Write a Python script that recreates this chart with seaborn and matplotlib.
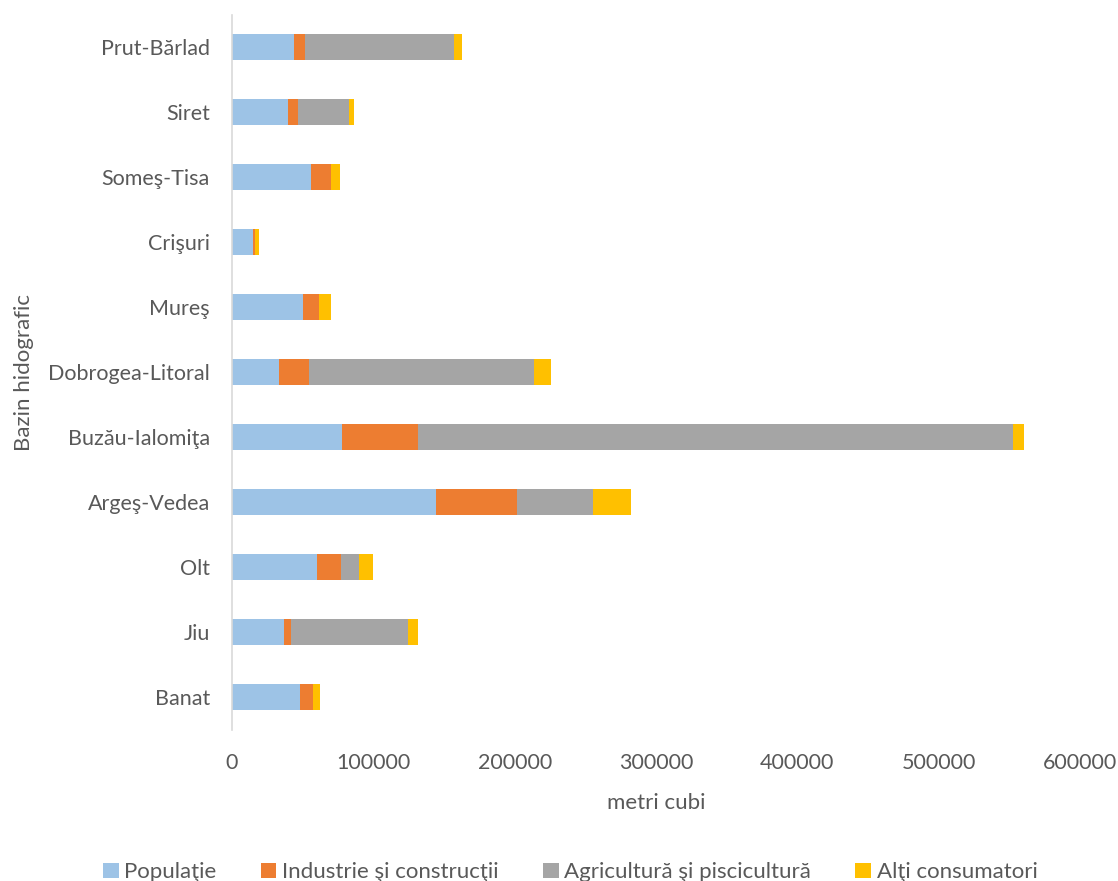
import matplotlib
matplotlib.use("Agg")
import matplotlib.pyplot as plt
import seaborn as sns
import numpy as np
import pandas as pd
from matplotlib.patches import Patch

categories = ["Prut-Bărlad", "Siret", "Someş-Tisa", "Crişuri", "Mureş",
              "Dobrogea-Litoral", "Buzău-Ialomiţa", "Argeş-Vedea", "Olt", "Jiu", "Banat"]
populatie = [43900, 39300, 56000, 14700, 50400, 33100, 77500, 144000, 60300, 36900, 47800]
industrie = [8000, 7300, 13900, 1900, 11100, 21200, 54000, 57500, 16500, 4700, 9700]
agricultura = [105200, 36100, 0, 0, 0, 159200, 421300, 53800, 13400, 82800, 0]
alti = [5400, 3800, 6200, 2800, 8300, 12300, 7400, 26900, 9900, 6900, 4500]

series_names = ["Populaţie", "Industrie şi construcţii", "Agricultură şi piscicultură", "Alţi consumatori"]
colors = ["#9DC3E6", "#ED7D31", "#A5A5A5", "#FFC000"]

sns.set_theme(style="white")
plt.rcParams['font.family'] = ['Lato', 'DejaVu Sans']

df = pd.DataFrame({"Bazin": categories, "s0": populatie, "s1": industrie,
                   "s2": agricultura, "s3": alti})
cum = df[["s0", "s1", "s2", "s3"]].cumsum(axis=1)

fig = plt.figure(figsize=(11.18, 8.81), dpi=100)
ax = fig.add_axes([232/1118, 1-729.5/881, (1080-232)/1118, (729.5-14.5)/881])

for i in range(3, -1, -1):
    d = pd.DataFrame({"Bazin": categories, "v": cum[f"s{i}"].values})
    sns.barplot(data=d, x="v", y="Bazin", order=categories, color=colors[i],
                width=0.4, saturation=1, ax=ax, linewidth=0)

ax.set_xlim(0, 600000)
ax.set_ylim(10.5, -0.5)
ax.set_xticks(np.arange(0, 600001, 100000))
ax.set_xticklabels([str(v) for v in range(0, 600001, 100000)])
tc = "#595959"
ax.tick_params(axis="both", colors=tc, labelsize=15.5, length=0)
ax.tick_params(axis="y", pad=16)
ax.tick_params(axis="x", pad=17)
for s in ["top", "right", "bottom"]:
    ax.spines[s].set_visible(False)
ax.spines["left"].set_color("#D9D9D9")
ax.spines["left"].set_linewidth(1.2)
ax.set_xlabel("metri cubi", fontsize=16, color=tc, labelpad=14)
ax.set_ylabel("Bazin hidografic", fontsize=16, color=tc, labelpad=10)
ax.grid(False)

handles = [Patch(facecolor=c, edgecolor="none", label=n) for c, n in zip(colors, series_names)]
leg = fig.legend(handles=handles, loc="lower center", bbox_to_anchor=(0.51, -0.024), ncol=4,
                 frameon=False, fontsize=16, handlelength=0.7, handleheight=0.7,
                 handletextpad=0.25, columnspacing=2.0)
for t in leg.get_texts():
    t.set_color(tc)

fig.savefig("out.png", dpi=100)
